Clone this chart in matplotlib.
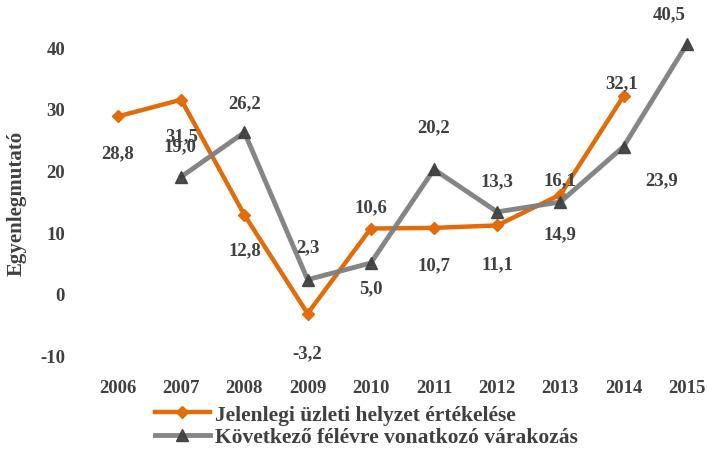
import numpy as np
import matplotlib.pyplot as plt

years = ['2006', '2007', '2008', '2009', '2010', '2011', '2012', '2013', '2014', '2015']
jelenlegi = [28.8, 31.5, 12.8, -3.2, 10.6, 10.7, 11.1, 16.1, 32.1]          # 2006-2014
kovetkezo = [19.0, 26.2, 2.3, 5.0, 20.2, 13.3, 14.9, 23.9, 40.5]            # 2007-2015

# label offsets in pixels (dx, dy)
off_j = [(0, -36), (0, -36), (0, -35), (0, -39), (0, 22), (0, -37), (0, -38), (0, 15), (-2, 13)]
off_k = [(-1, 31), (0, 30), (0, 33), (0, -25), (0, 43), (0, 31), (0, -32), (38, -33), (-18, 31)]

plt.rcParams['font.family'] = 'Liberation Serif'
plt.rcParams['font.weight'] = 'bold'
plt.rcParams['axes.unicode_minus'] = False
txt_col = '#404040'
orange = '#E36C0A'

fig = plt.figure(figsize=(7.07, 4.52), dpi=100)
ax = fig.add_axes([88/707, 82/452, 619/707, 350/452])

x_j = np.arange(len(jelenlegi))
x_k = np.arange(1, len(kovetkezo) + 1)

ax.plot(x_j, jelenlegi, color=orange, lw=3.2, marker='D', ms=6.5,
        label='Jelenlegi üzleti helyzet értékelése', zorder=3)
ax.plot(x_k, kovetkezo, color='#7f7f7f', lw=3.5, marker='^', ms=9,
        mfc='#404040', mec='#404040', alpha=0.95,
        label='Következő félévre vonatkozó várakozás', zorder=4)

def fmt(v):
    return ('%.1f' % v).replace('.', ',')

for xi, v, o in zip(x_j, jelenlegi, off_j):
    ax.annotate(fmt(v), (xi, v), xytext=o, textcoords='offset pixels',
                ha='center', va='center', fontsize=13.5, color=txt_col, zorder=5)
for xi, v, o in zip(x_k, kovetkezo, off_k):
    ax.annotate(fmt(v), (xi, v), xytext=o, textcoords='offset pixels',
                ha='center', va='center', fontsize=13.5, color=txt_col, zorder=5)

ax.set_xlim(-0.475, 9.32)
ax.set_ylim(-12.2, 44.6)
ax.set_yticks([-10, 0, 10, 20, 30, 40])
ax.set_xticks(np.arange(len(years)))
ax.set_xticklabels(years)
for s in ax.spines.values():
    s.set_visible(False)
ax.tick_params(length=0, labelsize=13.5, labelcolor=txt_col)
ax.tick_params(axis='y', pad=16.5)
ax.tick_params(axis='x', pad=7)
ax.set_ylabel('Egyenlegmutató', fontsize=15, color=txt_col, fontweight='bold')
ax.yaxis.set_label_coords(-61/619, 0.477)

fig.legend(loc='center left', bbox_to_anchor=(155/707, 1 - 427/452), frameon=False,
           fontsize=15.5, labelcolor=txt_col, handlelength=2.55, handletextpad=0.25,
           labelspacing=0.12, borderaxespad=0, borderpad=0)

plt.savefig('out.png', dpi=100, facecolor='w')
